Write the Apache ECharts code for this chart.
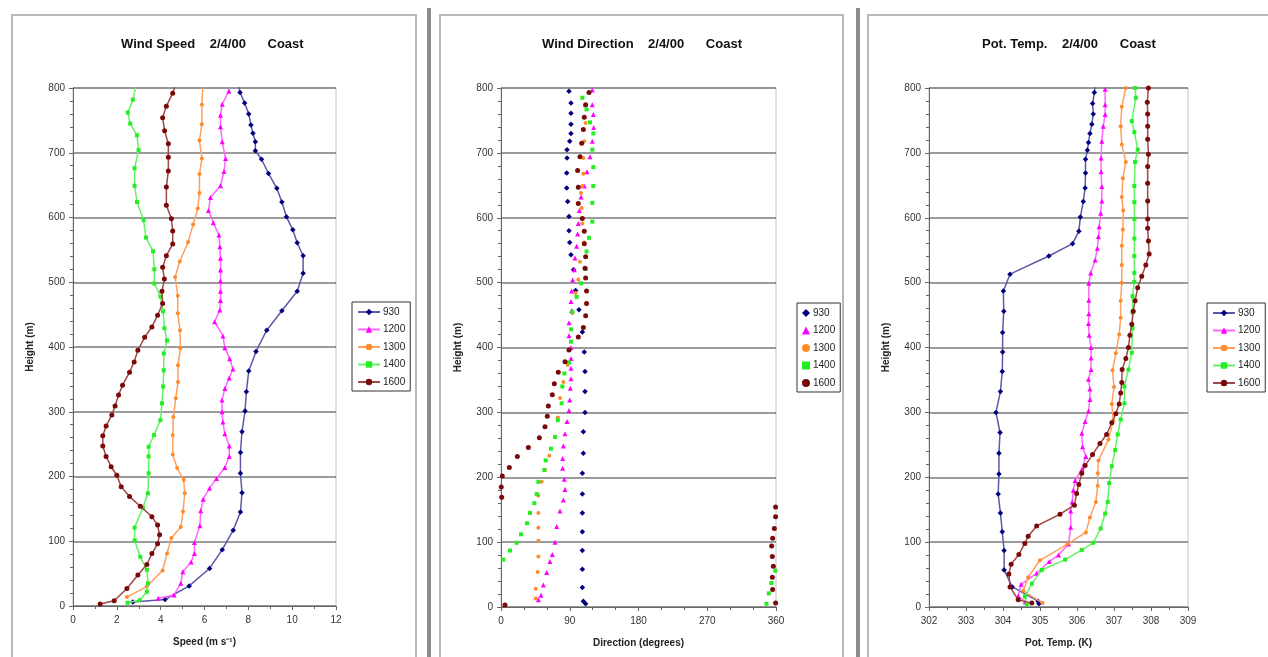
<!DOCTYPE html>
<html><head><meta charset="utf-8">
<script src="https://cdn.jsdelivr.net/npm/echarts@6/dist/echarts.min.js"></script>
<style>html,body{margin:0;padding:0;background:#fff}#c{width:1268px;height:657px}</style>
</head><body><div id="c"></div>
<script>
// ---------- DATA ----------
const seriesNames = ['930', '1200', '1300', '1400', '1600'];
const heightTicks = [0, 100, 200, 300, 400, 500, 600, 700, 800];
const speedTicks = [0, 2, 4, 6, 8, 10, 12];
const dirTicks = [0, 90, 180, 270, 360];
const tempTicks = [302, 303, 304, 305, 306, 307, 308, 309];

// Wind speed [m/s, height m]
const speed930 = [[7.55,806],[7.62,793],[7.83,777],[8.02,760],[8.12,743],[8.21,730],[8.32,717],[8.32,703],[8.6,690],[8.92,668],[9.3,645],[9.53,624],[9.74,601],[10.03,581],[10.23,561],[10.5,541],[10.5,514],[10.23,486],[9.53,456],[8.84,426],[8.35,393],[8.02,363],[7.91,331],[7.85,301],[7.71,269],[7.64,237],[7.64,205],[7.71,175],[7.64,145],[7.31,117],[6.81,87],[6.23,58],[5.3,31],[4.2,10],[2.73,6]];
const speed1200 = [[7.2,808],[7.11,795],[6.81,775],[6.73,758],[6.73,740],[6.81,717],[6.96,691],[6.89,671],[6.73,649],[6.27,631],[6.18,611],[6.4,592],[6.66,573],[6.7,555],[6.73,537],[6.73,519],[6.73,502],[6.73,486],[6.73,472],[6.7,457],[6.46,439],[6.84,417],[6.93,399],[7.15,382],[7.3,366],[7.13,352],[6.93,336],[6.8,318],[6.8,300],[6.84,284],[6.93,266],[7.13,247],[7.13,231],[6.93,214],[6.55,197],[6.23,182],[5.94,165],[5.83,147],[5.79,124],[5.54,98],[5.54,81],[5.39,68],[5.01,53],[4.92,35],[4.61,17],[3.89,12]];
const speed1300 = [[5.93,808],[5.88,774],[5.88,744],[5.77,719],[5.88,691],[5.77,667],[5.77,638],[5.69,614],[5.48,589],[5.25,562],[4.87,532],[4.66,508],[4.78,479],[4.78,452],[4.88,426],[4.9,398],[4.79,372],[4.79,346],[4.69,321],[4.58,292],[4.55,264],[4.55,234],[4.75,213],[5.05,195],[5.1,174],[5.02,146],[4.92,122],[4.49,105],[4.29,81],[4.09,55],[3.37,30],[2.46,14]];
const speed1400 = [[2.9,808],[2.73,782],[2.5,762],[2.61,745],[2.92,727],[2.99,704],[2.81,676],[2.81,649],[2.92,624],[3.22,596],[3.33,569],[3.65,548],[3.71,520],[3.71,498],[3.99,478],[4.11,455],[4.17,429],[4.29,410],[4.14,390],[4.14,364],[4.11,339],[4.06,313],[3.99,287],[3.7,264],[3.45,246],[3.45,231],[3.45,205],[3.42,174],[3.19,152],[2.81,121],[2.81,101],[3.07,76],[3.37,56],[3.42,35],[3.37,22],[3.04,9],[2.49,5]];
const speed1600 = [[4.7,808],[4.55,792],[4.26,772],[4.09,754],[4.18,734],[4.35,714],[4.35,693],[4.35,672],[4.26,647],[4.26,619],[4.49,598],[4.55,579],[4.55,559],[4.26,541],[4.09,523],[4.17,505],[4.06,486],[4.09,467],[3.86,449],[3.6,431],[3.27,415],[2.96,395],[2.79,377],[2.58,361],[2.26,341],[2.08,326],[1.92,309],[1.77,295],[1.51,278],[1.36,263],[1.36,247],[1.51,231],[1.74,215],[2.0,202],[2.2,184],[2.58,169],[3.07,154],[3.6,138],[3.86,125],[3.95,110],[3.86,96],[3.6,81],[3.37,64],[2.96,48],[2.46,27],[1.88,8],[1.24,3]];

// Wind direction [degrees, height m]
const dir930 = [[89,795],[91.6,777],[91.6,761],[91.6,744],[91.6,730],[89.9,718],[86.4,705],[86.4,692],[86,669],[86,646],[87.3,625],[89,602],[89,580],[89.9,562],[91.6,543],[95,520],[97.7,488],[102,458],[106.5,424],[109,393],[110,363],[110,332],[110,300],[107.8,270],[107.8,237],[106.5,206],[106.5,174],[106.5,145],[106.5,116],[106.5,87],[106.5,58],[106.5,30],[107.8,9],[110.8,5]];
const dir1200 = [[119.5,797],[119.5,774],[120.9,759],[121.3,739],[119.5,718],[116.5,694],[112.6,671],[109,649],[104.7,632],[102.5,611],[101.2,591],[100.3,575],[99,556],[96.9,538],[96,520],[93.8,504],[92.5,487],[91.6,471],[92.5,457],[89,438],[89,418],[91.6,400],[91.6,383],[91.6,368],[91.6,352],[90.8,337],[89.9,319],[89,303],[86.4,286],[83.8,267],[81.6,248],[80.7,229],[80.7,214],[82.9,197],[83.8,181],[81.6,165],[77.2,148],[72.9,124],[70.7,100],[67.2,81],[64.1,70],[59.8,53],[55.4,34],[52.4,18],[48.9,11]];
const dir1300 = [[110,773],[110.8,746],[109,718],[107.8,692],[107.8,668],[106.5,649],[104.7,638],[105.6,615],[106.5,591],[109,562],[103.4,532],[101.2,505],[97.7,484],[93.4,453],[87.3,373],[81.6,347],[77.2,322],[74.2,292],[70.7,262],[63.3,233],[57.6,211],[53.2,193],[48.9,172],[48.9,145],[48.9,122],[48.9,102],[48.9,78],[48,54],[45.4,28],[45.4,13]];
const dir1400 = [[106.5,785],[112,767],[116.5,747],[120.9,730],[119.5,705],[120.9,678],[120.9,649],[119.5,623],[119.5,594],[115.2,569],[112,548],[110.8,521],[104.7,499],[99,478],[93.4,455],[91.6,428],[91.6,409],[89,377],[82.9,360],[80.3,340],[79.4,314],[74.4,288],[70.7,262],[65.4,244],[58.5,226],[56.7,211],[48.9,193],[46.7,174],[43.6,160],[38,145],[34,129],[26.2,112],[20.5,99],[11.8,87],[3,73],[359,56],[354,37],[350.6,21],[347.5,5]];
const dir1600 = [[115.2,793],[110.8,774],[109,755],[107.8,736],[105.6,715],[103.4,694],[100.3,673],[101.2,647],[101.2,622],[106.5,599],[109,579],[109,560],[110.8,540],[110,522],[110.8,507],[112,487],[112,468],[110.8,449],[107.8,431],[101.2,416],[89,396],[83.8,378],[75,362],[69.8,344],[67.2,327],[62,310],[60.6,294],[57.6,278],[50.2,261],[35.8,246],[21.4,232],[10.9,215],[1.7,202],[0.3,185],[0.9,169],[359.5,154],[359.5,139],[357.8,121],[355.6,106],[354.3,94],[355.2,78],[356.5,63],[355.2,46],[355.6,27],[359.5,6],[5.2,3]];

// Potential temperature [K, height m]
const temp930 = [[306.5,808],[306.47,793],[306.42,776],[306.44,760],[306.4,744],[306.35,730],[306.31,716],[306.28,704],[306.23,690],[306.23,669],[306.22,646],[306.17,625],[306.09,601],[306.05,579],[305.88,560],[305.24,541],[304.19,513],[304.01,487],[304.02,456],[303.99,423],[303.99,393],[303.98,363],[303.93,332],[303.81,300],[303.92,269],[303.89,237],[303.89,205],[303.87,174],[303.93,145],[303.98,116],[304.03,87],[304.03,57],[304.25,31],[304.95,9],[304.97,5]];
const temp1200 = [[306.76,798],[306.76,774],[306.76,759],[306.71,741],[306.67,718],[306.65,692],[306.65,671],[306.67,648],[306.67,626],[306.64,607],[306.6,586],[306.58,571],[306.55,553],[306.49,535],[306.37,515],[306.32,499],[306.32,473],[306.32,452],[306.31,437],[306.33,419],[306.38,400],[306.38,384],[306.38,366],[306.31,351],[306.35,336],[306.35,320],[306.31,302],[306.22,286],[306.13,268],[306.15,247],[306.24,232],[306.13,212],[305.95,195],[305.9,180],[305.87,162],[305.83,148],[305.83,123],[305.77,97],[305.5,80],[305.25,70],[304.91,52],[304.49,35],[304.41,17],[304.6,8]];
const temp1300 = [[307.32,800],[307.21,771],[307.18,741],[307.21,713],[307.32,686],[307.24,661],[307.21,632],[307.25,611],[307.24,582],[307.21,557],[307.21,527],[307.21,500],[307.18,472],[307.18,446],[307.14,420],[307.05,391],[306.96,365],[307.0,339],[306.94,313],[306.98,287],[306.85,258],[306.58,226],[306.56,206],[306.56,187],[306.51,162],[306.35,138],[306.24,115],[305.74,97],[305.0,72],[304.68,46],[304.55,25],[305.07,6]];
const temp1400 = [[307.57,800],[307.59,785],[307.48,749],[307.55,732],[307.64,705],[307.57,686],[307.55,649],[307.55,624],[307.55,598],[307.55,568],[307.55,541],[307.55,515],[307.55,501],[307.5,479],[307.5,454],[307.5,430],[307.48,392],[307.39,366],[307.28,340],[307.28,314],[307.18,289],[307.1,266],[307.03,242],[306.94,217],[306.87,191],[306.83,162],[306.76,144],[306.64,121],[306.44,99],[306.13,88],[305.68,73],[305.05,57],[304.78,36],[304.59,16],[304.64,4]];
const temp1600 = [[307.93,800],[307.9,778],[307.91,760],[307.91,741],[307.91,721],[307.93,698],[307.91,679],[307.91,653],[307.91,626],[307.91,598],[307.91,584],[307.93,564],[307.95,544],[307.86,527],[307.75,510],[307.64,492],[307.57,472],[307.52,456],[307.48,436],[307.43,419],[307.39,400],[307.32,383],[307.22,366],[307.21,346],[307.18,330],[307.14,313],[307.05,298],[306.94,284],[306.8,266],[306.62,252],[306.42,235],[306.22,218],[306.13,206],[306.05,189],[305.99,175],[305.93,157],[305.54,143],[304.91,125],[304.68,109],[304.59,98],[304.43,81],[304.22,66],[304.16,51],[304.19,31],[304.41,11],[304.78,6]];

const titles = ['Wind Speed    2/4/00      Coast', 'Wind Direction    2/4/00      Coast', 'Pot. Temp.    2/4/00      Coast'];
const xNames = ['Speed (m s\u207B\u00B9)', 'Direction (degrees)', 'Pot. Temp. (K)'];
const yName = 'Height (m)';

// ---------- STYLE ----------
const colors = ['#000080', '#ff00ff', '#ff8a2a', '#22ee22', '#7a0a0a'];
const lineColors = ['#5a5aa8', '#ff66ff', '#ffa060', '#66f066', '#a04848'];
const symbols = ['diamond', 'triangle', 'circle', 'rect', 'circle'];
const symSizes = [5.5, 5, 4, 4, 5];
const FONT = '"Liberation Sans", Arial, sans-serif';

const panels = [
  {data: [speed930, speed1200, speed1300, speed1400, speed1600], min: 0, max: 12, interval: 2, minor: 2, grid: {left: 73, top: 88, width: 263, height: 518}, line: true, key: 's'},
  {data: [dir930, dir1200, dir1300, dir1400, dir1600], min: 0, max: 360, interval: 90, minor: 3, grid: {left: 501, top: 88, width: 275, height: 519}, line: false, key: 'd'},
  {data: [temp930, temp1200, temp1300, temp1400, temp1600], min: 302, max: 309, interval: 1, minor: 2, grid: {left: 929, top: 88, width: 259, height: 519}, line: true, key: 't'}
];
const titleLeft = [116, 537, 977];
const legendPos = [
  {left: 352, top: 302, itemWidth: 22},
  {left: 797, top: 303, itemWidth: 8},
  {left: 1207, top: 303, itemWidth: 22}
];

const grids = [], xAxes = [], yAxes = [], series = [], legends = [], titleOpts = [];
panels.forEach((p, i) => {
  grids.push(Object.assign({show: true, borderColor: '#c4c4c4', borderWidth: 1, backgroundColor: '#fff'}, p.grid));
  xAxes.push({
    type: 'value', gridIndex: i, min: p.min, max: p.max, interval: p.interval,
    name: xNames[i], nameLocation: 'middle', nameGap: 31,
    nameTextStyle: {fontFamily: FONT, fontSize: 10, fontWeight: 'bold', color: '#222'},
    axisLine: {show: true, onZero: false, lineStyle: {color: '#666', width: 1}},
    axisTick: {show: true, length: 4, lineStyle: {color: '#666'}},
    minorTick: {show: true, splitNumber: p.minor, length: 3, lineStyle: {color: '#666'}},
    axisLabel: {fontFamily: FONT, fontSize: 10, color: '#333', margin: 9},
    splitLine: {show: false}
  });
  yAxes.push({
    type: 'value', gridIndex: i, min: 0, max: 800, interval: 100,
    name: yName, nameLocation: 'middle', nameGap: 38, nameRotate: 90,
    nameTextStyle: {fontFamily: FONT, fontSize: 10, fontWeight: 'bold', color: '#222'},
    axisLine: {show: true, onZero: false, lineStyle: {color: '#666', width: 1}},
    axisTick: {show: true, length: 4, lineStyle: {color: '#666'}},
    minorTick: {show: true, splitNumber: 5, length: 3, lineStyle: {color: '#666'}},
    axisLabel: {fontFamily: FONT, fontSize: 10, color: '#333', margin: 8},
    splitLine: {show: true, lineStyle: {color: '#7a7a7a', width: 1.5}}
  });
  titleOpts.push({text: titles[i], left: titleLeft[i], top: 33,
    textStyle: {fontFamily: FONT, fontSize: 13, fontWeight: 'bold', color: '#111'}});
  const names = [];
  p.data.forEach((d, k) => {
    const nm = seriesNames[k] + '_' + p.key;
    names.push(nm);
    series.push({
      name: nm, type: p.line ? 'line' : 'scatter', xAxisIndex: i, yAxisIndex: i,
      data: d, symbol: symbols[k], symbolSize: symSizes[k], clip: true,
      showSymbol: true, animation: false, z: 3 + k,
      itemStyle: {color: colors[k], opacity: 1},
      lineStyle: {color: lineColors[k], width: 1.5}
    });
  });
  legends.push({
    data: names, orient: 'vertical', left: legendPos[i].left, top: legendPos[i].top,
    itemWidth: legendPos[i].itemWidth, itemHeight: 8, itemGap: 7.5,
    padding: [5, 5, 4, 5], borderColor: '#333', borderWidth: 1, backgroundColor: '#fff',
    selectedMode: false,
    formatter: n => n.split('_')[0],
    textStyle: {fontFamily: FONT, fontSize: 10, color: '#222', padding: [0, 0, 0, -2]}
  });
});

const graphics = [
  {type: 'rect', shape: {x: 12, y: 15, width: 404, height: 660}, style: {fill: 'none', stroke: '#b8b8b8', lineWidth: 2}, z: -10},
  {type: 'rect', shape: {x: 440, y: 15, width: 403, height: 660}, style: {fill: 'none', stroke: '#b8b8b8', lineWidth: 2}, z: -10},
  {type: 'rect', shape: {x: 868, y: 15, width: 420, height: 660}, style: {fill: 'none', stroke: '#b8b8b8', lineWidth: 2}, z: -10},
  {type: 'rect', shape: {x: 427, y: 8, width: 4, height: 660}, style: {fill: '#8c8c8c'}, z: -10},
  {type: 'rect', shape: {x: 856, y: 8, width: 4, height: 660}, style: {fill: '#8c8c8c'}, z: -10}
];

const chart = echarts.init(document.getElementById('c'), null, {renderer: 'canvas'});
chart.setOption({
  backgroundColor: '#fff', animation: false,
  title: titleOpts, grid: grids, xAxis: xAxes, yAxis: yAxes,
  legend: legends, series: series, graphic: graphics
});
</script></body></html>
